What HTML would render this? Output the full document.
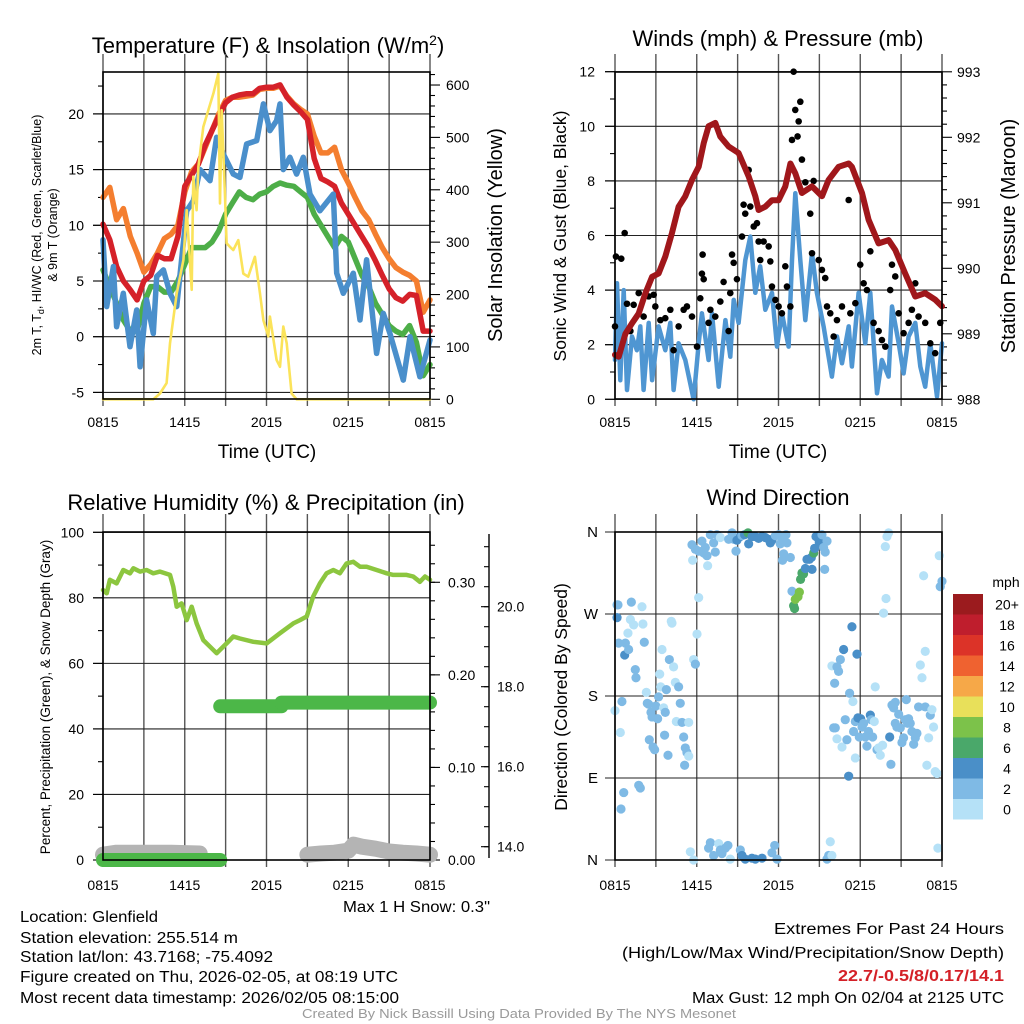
<!DOCTYPE html>
<html><head><meta charset="utf-8">
<style>
html,body{margin:0;padding:0;background:#fff;}
svg{display:block;font-family:"Liberation Sans",Arial,sans-serif;}
</style></head>
<body>
<svg id="chart" width="1024" height="1024" viewBox="0 0 1024 1024" xmlns="http://www.w3.org/2000/svg">
<rect x="0" y="0" width="1024" height="1024" fill="#fff"/>
<text x="268" y="53" font-size="22" text-anchor="middle">Temperature (F) &amp; Insolation (W/m<tspan dy="-8" font-size="14">2</tspan><tspan dy="8">)</tspan></text>
<text x="778" y="46" font-size="22" text-anchor="middle">Winds (mph) &amp; Pressure (mb)</text>
<text x="266" y="510" font-size="22" text-anchor="middle">Relative Humidity (%) &amp; Precipitation (in)</text>
<text x="778" y="505" font-size="22" text-anchor="middle">Wind Direction</text>

<text x="267" y="458" font-size="19" text-anchor="middle">Time (UTC)</text>
<text x="778" y="458" font-size="19" text-anchor="middle">Time (UTC)</text>

<text transform="translate(41,235) rotate(-90)" font-size="12.5" text-anchor="middle">2m T, T<tspan dy="3" font-size="9">d</tspan><tspan dy="-3">, HI/WC (Red, Green, Scarlet/Blue)</tspan></text>
<text transform="translate(57,235) rotate(-90)" font-size="12.5" text-anchor="middle">&amp; 9m T (Orange)</text>
<text transform="translate(502,235) rotate(-90)" font-size="20" text-anchor="middle">Solar Insolation (Yellow)</text>
<text transform="translate(566,236) rotate(-90)" font-size="17.5" text-anchor="middle">Sonic Wind &amp; Gust (Blue, Black)</text>
<text transform="translate(1015,236) rotate(-90)" font-size="20" text-anchor="middle">Station Pressure (Maroon)</text>
<text transform="translate(50,697) rotate(-90)" font-size="13.5" text-anchor="middle">Percent, Precipitation (Green), &amp; Snow Depth (Gray)</text>
<text transform="translate(567,697) rotate(-90)" font-size="17.5" text-anchor="middle">Direction (Colored By Speed)</text>

<g font-size="15.5">
<text x="20" y="922" textLength="138" lengthAdjust="spacingAndGlyphs">Location: Glenfield</text>
<text x="20" y="943" textLength="218" lengthAdjust="spacingAndGlyphs">Station elevation: 255.514 m</text>
<text x="20" y="962" textLength="253" lengthAdjust="spacingAndGlyphs">Station lat/lon: 43.7168; -75.4092</text>
<text x="20" y="982" textLength="378" lengthAdjust="spacingAndGlyphs">Figure created on Thu, 2026-02-05, at 08:19 UTC</text>
<text x="20" y="1003" textLength="379" lengthAdjust="spacingAndGlyphs">Most recent data timestamp: 2026/02/05 08:15:00</text>
<text x="343" y="912" textLength="147" lengthAdjust="spacingAndGlyphs">Max 1 H Snow: 0.3"</text>
<text x="774" y="934" textLength="230" lengthAdjust="spacingAndGlyphs">Extremes For Past 24 Hours</text>
<text x="622" y="958" textLength="382" lengthAdjust="spacingAndGlyphs">(High/Low/Max Wind/Precipitation/Snow Depth)</text>
<text x="838" y="981" textLength="166" lengthAdjust="spacingAndGlyphs" fill="#d42027" font-weight="bold">22.7/-0.5/8/0.17/14.1</text>
<text x="692" y="1003" textLength="312" lengthAdjust="spacingAndGlyphs">Max Gust: 12 mph On 02/04 at 2125 UTC</text>
</g>
<text x="302" y="1018" font-size="12.5" fill="#9a9a9a" textLength="434" lengthAdjust="spacingAndGlyphs">Created By Nick Bassill Using Data Provided By The NYS Mesonet</text>
<g id="layer"></g>
</svg>
<script>
// ---------- DATA ----------
const tempRed = [10.1,8.7,6.3,5,4.2,3.3,5,5.5,7.3,7,7,9,13.5,14.5,15.5,17.2,18.5,19.8,21,21.5,21.7,21.8,21.8,22.3,22.4,22.4,22.6,21.5,20.8,20.2,19.5,16,14.2,13.9,13.5,12,11,10,9,8,6.8,5.5,4.3,3.5,3.2,3.8,3.7,0.5,0.5];
const tempOrange = [12.5,13.4,10.5,11.5,9,7.5,5.8,6.5,7.5,8.8,9.2,10,13,14.8,15.5,17,18.5,20,21.2,21.5,21.5,21.6,21.7,22.2,22.3,22.3,22.5,21.6,20.9,20.4,20,18,16.5,16.5,17,15,13.8,12.5,11.3,10.5,9.2,8,7,6.2,5.8,5.5,5,2.2,3.3];
const tempGreen = [6,4.5,3,1.5,0.5,0.5,3,4.5,4.5,4,4,5,6.5,8,8,8,8.5,9.5,11,12,13,12.5,12.3,12.8,13,13.5,13.8,13.6,13.5,13,12.5,11,10,9,8,9,8.5,7,5.5,4.5,3,2,1,0.5,0.2,1,-0.5,-3.5,-2.5];
const chillHours = [0,0.27,0.76,1.0,1.49,1.98,2.47,2.72,3.2,3.69,3.94,4.43,4.92,5.41,6.14,6.63,7.12,7.85,8.34,8.83,9.56,10.05,10.54,11.28,11.77,12.25,12.74,12.99,13.23,13.72,14.21,14.7,15.19,15.92,16.9,17.15,17.64,18.37,18.86,19.35,20.08,20.57,21.06,22.04,22.53,23.26,24];
const chillValues = [8.7,2.7,6.3,0.9,3.9,-0.9,2.4,-2.7,3.3,0.3,5.4,6,3.9,2.7,11.3,12.2,15,14,17.9,16.4,14.6,14.3,17.3,17.6,20.9,18.5,19.4,20.9,15,16.1,14.6,16.1,12.8,11.3,12.8,5.7,3.9,5.7,1.5,6.9,-1.5,2.1,0.3,-3.9,0,-3.6,-0.3];
const solarHours = [0,3.69,4.18,4.67,4.92,5.41,5.9,6.14,6.51,6.63,6.87,7.0,7.36,7.73,8.1,8.46,8.59,8.71,8.95,9.07,9.32,9.56,9.93,10.3,10.66,11.15,11.52,11.77,12.13,12.25,12.74,12.99,13.23,13.48,13.84,14.21,24];
const solarValues = [0,0,11,31,107,202,266,361,209,425,361,444,520,552,584,622,374,552,393,298,291,285,304,240,234,272,202,151,120,158,75,62,139,107,11,0,0];
const presHours = [0,0.27,0.76,1.25,1.74,2.23,2.72,3.2,3.69,4.18,4.67,5.16,5.65,6.14,6.51,6.87,7.36,7.73,8.34,9.07,9.81,10.3,10.54,11.03,11.52,12.01,12.5,12.87,13.23,13.72,14.46,15.19,15.68,16.41,17.15,17.39,18.13,18.61,19.35,20.08,20.57,21.3,22.04,22.77,23.5,24];
const presValues = [988.68,988.65,989.0,989.16,989.31,989.62,989.87,989.92,990.18,990.54,990.94,991.1,991.35,991.55,991.91,992.17,992.22,992.01,991.86,991.76,991.4,991.1,990.89,990.94,991.04,991.04,991.25,991.6,991.45,991.15,991.25,991.1,991.35,991.55,991.6,991.55,991.15,990.74,990.38,990.43,990.28,989.92,989.57,989.62,989.52,989.42];
const windHours = [0,0.15,0.39,0.64,0.88,1.25,1.61,1.86,2.1,2.47,2.72,3.2,3.69,4.06,4.3,4.67,5.16,5.77,6.14,6.38,6.87,7.12,7.61,8.1,8.46,8.71,9.07,9.56,9.93,10.3,10.66,11.03,11.52,11.89,12.25,12.74,12.99,13.23,13.6,13.97,14.46,14.82,15.31,15.92,16.29,16.66,17.15,17.39,17.88,18.37,18.74,19.23,19.59,20.08,20.33,20.82,21.18,21.55,22.04,22.41,22.77,23.14,23.63,24];
const windValues = [1.44,4.25,0.7,4,0.34,2.3,1.8,2.67,0.34,2.8,0.7,2.67,1.8,2.8,0.34,2.05,1.44,0,2.05,3.15,1.44,3.15,0.46,2.9,1.56,3.64,2.8,5.1,5.96,3.9,4.87,3.28,3.9,1.93,3.15,1.93,5.1,7.55,5.1,2.9,5.35,3.9,2.67,0.83,2.3,1.32,2.67,1.2,3.9,2.05,3.9,0.22,1.44,0.83,3.4,2.05,0.95,2.3,2.8,1.2,0.46,2.05,0.1,2.05];
const gustHours = [0,0.07,0.46,0.71,0.88,1.13,1.37,1.74,2.1,2.47,2.84,2.96,3.33,3.69,4.06,4.3,4.67,5.04,5.28,5.65,6.02,6.26,6.38,6.43,6.51,6.87,7.0,7.36,7.73,7.97,8.34,8.46,8.59,8.71,8.95,9.32,9.44,9.56,9.81,9.93,10.18,10.42,10.54,10.66,10.91,11.28,11.4,11.52,11.77,12.01,12.25,12.5,12.62,12.87,12.99,13.11,13.23,13.4,13.48,13.6,13.72,13.97,14.33,14.46,14.58,14.95,15.19,15.43,15.56,15.8,16.05,16.29,16.66,17.15,17.27,17.64,18.0,18.25,18.49,18.74,18.98,19.35,19.59,19.84,20.2,20.33,20.57,20.82,21.18,21.55,21.79,22.04,22.28,22.77,23.14,23.5,23.87];
const gustValues = [2.67,5.23,5.15,6.09,3.5,2.5,3.46,3.89,3.03,3.77,3.83,3.4,2.9,2.97,3.28,1.8,2.67,3.28,3.4,3.03,1.93,3.7,4.6,5.3,4.4,2.8,3.28,3.03,3.58,4.3,2.5,3.89,5.3,5.0,4.4,5.96,7.13,6.8,8.4,7.06,6.33,6.45,5.78,5.1,5.78,5.6,5.05,4.13,3.64,3.4,3.15,4.87,4.13,3.4,9.5,12,10.6,9.63,10.18,10.9,8.78,7.95,6.8,5.35,8.0,5.1,4.74,4.44,3.4,3.15,2.3,2.9,3.4,7.3,3.15,3.52,4.93,4.25,4.0,5.42,2.8,2.5,2.17,1.93,4.0,4.93,4.5,3.15,2.42,2.8,3.28,4.25,3.03,2.8,2.05,1.69,2.8];
const rhHours = [0,0.27,0.51,1.0,1.49,1.98,2.23,2.72,3.2,3.69,4.18,4.92,5.16,5.41,5.77,6.14,6.51,6.87,7.36,7.85,8.34,8.59,9.07,9.56,10.05,11.03,12.01,12.99,13.97,14.46,14.95,15.43,15.92,16.41,16.9,17.39,17.88,18.37,18.86,19.35,20.08,20.82,21.3,22.28,22.77,23.26,23.63,24];
const rhValues = [82.4,81.4,85.5,84.4,88.5,87.5,89,88,88.5,87.5,88,87,83.4,77.3,78.3,73.2,77.3,72.2,67.1,65.1,63.1,64.1,66.1,68.2,67.6,66.6,66.1,69.2,72.2,73.2,74.3,80.4,84.4,87.5,88.5,87.5,90.5,91,89.5,89.5,88.5,87.5,87,87,86.5,84.9,86.5,85.5];
const precipStart = [0,8.6,13.1];
const precipEnd = [8.6,13.1,24];
const precipValues = [0,0.166,0.17];
const snowHours = [0,1,3,5,7.1,NaN,15,16,17,18,18.4,19,20,21,22,23,24];
const snowValues = [13.8,13.85,13.85,13.85,13.83,NaN,13.8,13.83,13.85,13.9,14.05,14.0,13.95,13.88,13.85,13.83,13.8];
const dirHours = [0,0.15,0.22,0.15,0.27,0.39,0.51,0.64,0.44,0.76,0.71,0.95,1.0,1.13,1.2,1.37,1.49,1.54,1.74,1.86,1.98,2.05,2.15,2.3,2.37,2.47,2.52,2.64,2.72,2.79,2.91,3.0,3.13,3.2,3.28,3.35,3.45,3.57,3.64,3.69,3.77,3.89,3.99,4.13,4.18,4.3,4.43,4.5,4.67,4.79,4.92,5.04,5.11,5.16,5.28,5.41,5.41,5.53,5.77,5.77,5.9,6.02,6.14,5.65,5.7,
5.9,6.14,6.38,6.51,6.63,6.75,6.8,7.0,7.24,7.36,7.48,7.73,8.34,8.59,8.71,8.88,8.95,9.2,9.32,9.51,9.76,9.81,10.05,10.3,10.54,10.79,11.03,11.28,11.4,11.52,11.77,12.01,12.13,12.25,12.38,12.3,12.55,12.62,12.87,12.99,13.11,13.18,13.23,13.43,13.53,13.62,13.72,13.84,13.97,14.09,14.26,14.41,14.46,14.58,14.65,14.75,14.9,14.99,15.19,15.31,15.43,15.56,15.39,
6.87,7.0,7.24,7.61,7.73,7.85,8.1,8.29,8.46,9.2,9.32,9.56,10.05,10.3,10.79,11.52,11.72,11.89,15.56,15.68,15.8,15.92,
15.92,16.12,16.29,16.41,16.54,16.78,16.9,16.05,16.17,16.29,16.66,17.02,17.22,17.39,17.46,17.15,17.64,17.51,17.64,17.76,17.83,17.93,18.03,18.13,18.25,18.37,18.49,18.61,18.74,18.81,18.91,19.03,19.1,19.23,19.35,19.47,19.64,19.71,19.84,19.89,19.96,20.08,20.16,20.25,20.33,20.45,20.57,20.57,20.69,20.82,20.94,21.06,21.18,21.3,21.38,21.48,21.55,21.67,21.79,21.92,22.04,22.16,22.28,22.41,22.53,22.65,22.77,22.77,22.89,23.02,23.14,23.26,23.38,23.5,23.63,23.7,23.8,23.87,24.0];
const dirDegrees = [164,280,280,266,238,140,174,74,56,238,225,249,231,264,283,258,209,200,82,79,278,259,239,184,172,171,132,162,157,124,121,169,155,179,204,190,231,167,137,162,187,115,220,262,260,212,195,152,190,172,151,135,104,123,118,114,151,9,0,220,215,248,288,346,329,
341,339,350,337,343,334,323,357,348,338,357,354,352,359,352,339,351,355,356,357,359,347,355,355,353,355,354,352,348,351,356,357,347,351,336,329,357,348,332,295,279,276,286,289,294,308,315,314,320,330,330,332,319,337,342,355,356,349,357,343,338,350,319,
13,19,5,18,11,7,13,16,1,11,5,1,2,1,2,8,16,1,1,5,20,5,
213,194,212,207,220,231,154,145,145,133,124,132,183,256,174,92,112,141,152,226,156,135,155,146,150,135,125,141,159,154,135,152,190,121,123,115,126,271,344,287,355,359,135,105,170,167,173,150,146,160,145,129,134,154,176,150,155,150,141,127,134,139,168,214,200,312,229,168,104,134,159,165,146,97,95,13,334,300,306];
const dirSpeeds = [0,2,2,4,2,0,2,2,2,2,4,0,2,0,2,0,2,2,2,2,0,0,2,0,2,2,2,2,2,2,2,2,2,2,0,0,0,0,2,2,2,2,2,0,0,0,0,0,2,2,2,2,2,2,2,0,0,0,0,0,2,0,0,2,0,
2,2,2,2,2,2,0,2,2,2,2,0,2,2,2,2,4,4,2,4,6,4,4,4,4,4,4,4,4,4,2,2,2,2,2,2,2,2,2,2,6,6,8,8,8,6,6,6,4,4,4,4,4,6,4,4,4,4,2,2,2,2,2,
2,2,2,0,2,2,2,2,0,2,4,4,4,4,4,2,2,2,2,2,0,0,
0,2,2,2,2,4,2,2,2,0,0,2,2,4,0,4,0,2,2,4,4,2,4,2,2,2,2,2,4,2,2,0,0,2,0,0,0,0,0,0,0,0,4,2,2,2,2,2,2,2,2,2,2,2,2,2,2,2,2,2,2,2,2,0,0,0,0,2,0,0,2,0,0,0,0,0,0,2,2];
const speedLabels = ["20+","18","16","14","12","10","8","6","4","2","0"];
const speedColors = ["#9b1b1e","#bf1e2d","#dc3328","#ef6230","#f6a848","#e8e05a","#7cc24a","#4aa86a","#4a8fc8","#7fbae5","#b5e1f7"];
const timeTickLabels = ["0815","1415","2015","0215","0815"];
const tempTicks = [-5,0,5,10,15,20];
const solarTicks = [0,100,200,300,400,500,600];
const windTicks = [0,2,4,6,8,10,12];
const presTicks = [988,989,990,991,992,993];
const rhTicks = [0,20,40,60,80,100];
const precipTicks = ["0.00","0.10","0.20","0.30"];
const snowTicks = ["14.0","16.0","18.0","20.0"];
const dirTicks = ["N","E","S","W","N"];

// ---------- SCALES ----------
const X1 = t => 103 + t / 24 * 327;
const X2 = t => 615 + t / 24 * 327;
const Y1L = v => 336.7 - v * 11.14;
const Y1R = s => 399.3 - s * 0.5238;
const Y2L = v => 399.3 - v * 27.3;
const Y2R = p => 399.3 - (p - 988) * 65.5;
const Y3L = r => 860 - r * 3.277;
const Y3P = p => 860 - p * 925.7;
const Y3S = s => 846.7 - (s - 14) * 40;
const Y4 = d => 860 - d / 360 * 328;

const NS = "http://www.w3.org/2000/svg";
const layer = document.getElementById("layer");
function mk(tag, attrs, parent) {
  const el = document.createElementNS(NS, tag);
  for (const k in attrs) el.setAttribute(k, attrs[k]);
  (parent || layer).appendChild(el);
  return el;
}
function pts(xs, ys, fx, fy) {
  return xs.map((x, i) => fx(x).toFixed(1) + "," + fy(ys[i]).toFixed(1)).join(" ");
}
function panelFrame(name, x0, x1, y0, y1, hGridYs) {
  const g = mk("g", {});
  
  
  for (let i = 0; i <= 8; i++) {
    const x = x0 + (x1 - x0) * i / 8;
    const l = mk("line", {x1: x, x2: x, y1: y0 - 18, y2: y1 + 7, stroke: "#555", "stroke-width": 1.4}, g);
    
    
  }
  hGridYs.forEach(y => {
    const l = mk("line", {x1: x0 - 10, x2: x1, y1: y, y2: y, stroke: "#222", "stroke-width": 1.1}, g);
    
    
  });
  return g;
}
function panelBox(name, x0, x1, y0, y1) {
  const r = mk("rect", {x: x0, y: y0, width: x1 - x0, height: y1 - y0, fill: "none", stroke: "#000", "stroke-width": 1.6});
  
  
}
function xLabels(name, x0, x1, y) {
  timeTickLabels.forEach((lab, i) => {
    const t = mk("text", {x: x0 + (x1 - x0) * i / 4, y: y, "font-size": 14, "text-anchor": "middle"});
    t.textContent = lab;
    
    
  });
}
function yLabel(name, x, y, txt, anchor, size) {
  const t = mk("text", {x: x, y: y + 5, "font-size": size || 14, "text-anchor": anchor});
  t.textContent = txt;
  
  
}
function tick(name, x, y, len) {
  const l = mk("line", {x1: x, x2: x + len, y1: y, y2: y, stroke: "#000", "stroke-width": 1.1});
  
  
}
function line(name, xs, ys, fx, fy, color, w) {
  const attrs = {points: pts(xs, ys, fx, fy), fill: "none", stroke: color, "stroke-width": w, "stroke-linejoin": "round", "stroke-linecap": "round"};
  const p = mk("polyline", attrs);
  
  
  return p;
}
const halfHours = tempRed.map((_, i) => i * 0.5);

// ===== PANEL 1 =====
panelFrame("temperature", 103, 430, 72, 399, tempTicks.map(Y1L));
for (let v = -5; v <= 22.5; v += 2.5) tick("temperature-y-minor-tick", 103, Y1L(v), v % 5 === 0 ? -10 : -5);
for (let s = 0; s <= 620; s += 20) tick("solar-y-tick", 430, Y1R(s), s % 100 === 0 ? 10 : 5);
tempTicks.forEach(v => yLabel("temperature-y-tick-label", 84, Y1L(v), String(v), "end"));
solarTicks.forEach(s => yLabel("solar-y-tick-label", 446, Y1R(s), String(s), "start"));
line("orange-9m-temperature-line", halfHours, tempOrange, X1, Y1L, "#f47e2f", 5.5);
line("red-2m-temperature-line", halfHours, tempRed, X1, Y1L, "#d52129", 5.5);
line("green-dewpoint-line", halfHours, tempGreen, X1, Y1L, "#4dae48", 5.5);
line("blue-windchill-line", chillHours, chillValues, X1, Y1L, "#4a8fcb", 5.5);
line("yellow-solar-insolation-line", solarHours, solarValues, X1, Y1R, "#fbe35a", 2.6);
panelBox("temperature", 103, 430, 72, 399);
xLabels("temperature", 103, 430, 427);

// ===== PANEL 2 =====
panelFrame("winds", 615, 942, 72, 399, windTicks.map(Y2L));
for (let v = 0; v <= 12; v += 1) tick("wind-y-tick", 615, Y2L(v), v % 2 === 0 ? -10 : -5);
for (let p = 988; p <= 993.001; p += 0.2) tick("pressure-y-tick", 942, Y2R(p), Math.abs(p - Math.round(p)) < 0.01 ? 10 : 5);
windTicks.forEach(v => yLabel("wind-y-tick-label", 595, Y2L(v), String(v), "end"));
presTicks.forEach(p => yLabel("pressure-y-tick-label", 957, Y2R(p), String(p), "start"));
line("sonic-wind-line", windHours, windValues, X2, Y2L, "#4f96d2", 4.5);
gustHours.forEach((h, i) => {
  const c = mk("circle", {cx: X2(h), cy: Y2L(gustValues[i]), r: 3.3, fill: "#000"});
  
  
});
line("station-pressure-line", presHours, presValues, X2, Y2R, "#a0171b", 6);
panelBox("winds", 615, 942, 72, 399);
xLabels("winds", 615, 942, 427);

// ===== PANEL 3 =====
panelFrame("humidity", 103, 430, 532, 860, rhTicks.map(Y3L));
for (let v = 0; v <= 100; v += 10) tick("humidity-y-tick", 103, Y3L(v), v % 20 === 0 ? -10 : -5);
for (let p = 0; p <= 0.35; p += 0.02) tick("precip-y-tick", 430, Y3P(p), 5);
precipTicks.forEach(p => tick("precip-y-major-tick", 430, Y3P(parseFloat(p)), 10));
rhTicks.forEach(v => yLabel("humidity-y-tick-label", 84, Y3L(v), String(v), "end"));
precipTicks.forEach(p => yLabel("precip-y-tick-label", 448, Y3P(parseFloat(p)), p, "start"));
const snowAxis = mk("line", {x1: 489, x2: 489, y1: 534, y2: 858, stroke: "#000", "stroke-width": 1.4});


for (let s = 14; s <= 21.8; s += 0.5) tick("snow-y-tick", 489, Y3S(s), -5);
snowTicks.forEach(s => { tick("snow-y-major-tick", 489, Y3S(parseFloat(s)), -8); yLabel("snow-y-tick-label", 497, Y3S(parseFloat(s)), s, "start"); });
line("relative-humidity-line", rhHours, rhValues, X1, Y3L, "#8cc63f", 4.5);
let segH = [], segV = [];
function flushSnow() {
  if (segH.length) line("snow-depth-line", segH, segV, X1, Y3S, "#b4b4b4", 16);
  segH = []; segV = [];
}
snowHours.forEach((h, i) => { if (isNaN(h)) flushSnow(); else { segH.push(h); segV.push(snowValues[i]); } });
flushSnow();
precipValues.forEach((v, i) => {
  line("precipitation-line", [precipStart[i], precipEnd[i]], [v, v], X1, Y3P, "#4cb748", 14);
});
panelBox("humidity", 103, 430, 532, 860);
xLabels("humidity", 103, 430, 890);

// ===== PANEL 4 =====
panelFrame("direction", 615, 942, 532, 860, [0, 90, 180, 270, 360].map(Y4));
dirTicks.forEach((lab, i) => yLabel("direction-y-tick-label", 598, Y4(i * 90), lab, "end", 15));
dirHours.forEach((h, i) => {
  const cls = dirSpeeds[i];
  const col = speedColors[10 - cls / 2];
  const c = mk("circle", {cx: X2(h), cy: Y4(dirDegrees[i]), r: 4.6, fill: col});
  
  
});
panelBox("direction", 615, 942, 532, 860);
xLabels("direction", 615, 942, 890);

const mph = mk("text", {x: 1006, y: 587, "font-size": 14, "text-anchor": "middle"});
mph.textContent = "mph";


speedLabels.forEach((lab, i) => {
  const r = mk("rect", {x: 953, y: 594 + i * 20.5, width: 30, height: 20.5, fill: speedColors[i]});
  
  
  const t = mk("text", {x: 1007, y: 594 + i * 20.5 + 15.5, "font-size": 14, "text-anchor": "middle"});
  t.textContent = lab;
  
  
});
</script>
</body></html>
